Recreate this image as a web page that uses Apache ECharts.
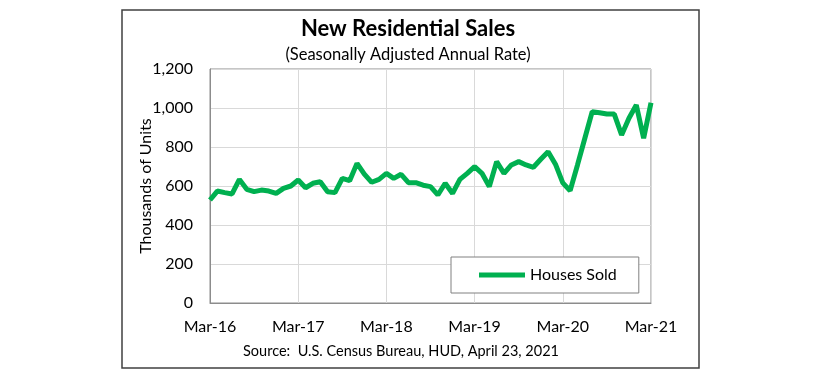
<!DOCTYPE html>
<html>
<head>
<meta charset="utf-8">
<script src="https://cdn.jsdelivr.net/npm/echarts@6/dist/echarts.min.js"></script>
<style>
html,body{margin:0;padding:0;background:#fff;}
#chart{width:830px;height:374px;}
</style>
</head>
<body>
<div id="chart"></div>
<script>
// ---- data ----
var titleText = 'New Residential Sales';
var subtitleText = '(Seasonally Adjusted Annual Rate)';
var sourceText = 'Source:  U.S. Census Bureau, HUD, April 23, 2021';
var yAxisTitle = 'Thousands of Units';
var seriesName = 'Houses Sold';
var monthNames = ['Jan','Feb','Mar','Apr','May','Jun','Jul','Aug','Sep','Oct','Nov','Dec'];
var startYear = 2016, startMonth = 2; // Mar-16
var housesSold = [
  528, 574, 566, 559, 634, 583, 571, 579, 574, 562,            // Mar-Dec 2016
  588, 600, 631, 591, 614, 622, 571, 566, 639, 627, 716, 661,  // 2017
  619, 634, 665, 639, 660, 617, 617, 604, 597, 554, 614, 562,  // 2018
  634, 665, 699, 665, 597, 725, 665, 708, 725, 708, 696, 737,  // 2019
  776, 712, 616, 576, 708, 845, 981, 976, 969, 969, 862, 947,  // 2020
  1015, 845, 1027                                              // Jan-Mar 2021
];
var yTicks = [0, 200, 400, 600, 800, 1000, 1200];
var xTickLabels = ['Mar-16','Mar-17','Mar-18','Mar-19','Mar-20','Mar-21'];

var categories = [];
for (var i = 0; i < housesSold.length; i++) {
  var m = (startMonth + i) % 12;
  var y = startYear + Math.floor((startMonth + i) / 12);
  categories.push(monthNames[m] + '-' + String(y).slice(2));
}

var FONT = 'Lato';
var chart = echarts.init(document.getElementById('chart'));
chart.setOption({
  animation: false,
  backgroundColor: '#fff',
  textStyle: { fontFamily: FONT },
  grid: {
    left: 210, right: 179, top: 69, bottom: 71,
    show: true, borderColor: '#8c8c8c', borderWidth: 1
  },
  xAxis: {
    type: 'category',
    data: categories,
    boundaryGap: false,
    axisLine: { lineStyle: { color: '#8c8c8c', width: 1 } },
    axisTick: { show: false },
    axisLabel: {
      interval: 11, margin: 16,
      color: '#000', fontSize: 16, fontFamily: FONT,
      formatter: function (v) { return xTickLabels.indexOf(v) >= 0 ? v : ''; }
    },
    splitLine: { show: true, interval: 11, lineStyle: { color: '#d9d9d9', width: 1 } }
  },
  yAxis: {
    type: 'value',
    min: yTicks[0], max: yTicks[yTicks.length - 1], interval: 200,
    name: yAxisTitle, nameLocation: 'middle', nameRotate: 90, nameGap: 56,
    nameMoveOverlap: false,
    nameTextStyle: { color: '#000', fontSize: 16, fontFamily: FONT },
    axisLine: { show: true, lineStyle: { color: '#8c8c8c', width: 1 } },
    axisTick: { show: false },
    axisLabel: {
      margin: 17, color: '#000', fontSize: 16, fontFamily: FONT,
      formatter: function (v) { return v.toLocaleString('en-US'); }
    },
    splitLine: { show: true, lineStyle: { color: '#d9d9d9', width: 1 } }
  },
  legend: {
    left: 451, top: 257,
    padding: [9, 22, 9, 28],
    borderColor: '#808080', borderWidth: 1, backgroundColor: '#fff',
    itemWidth: 46, itemHeight: 5, icon: 'rect',
    textStyle: { color: '#000', fontSize: 16, fontFamily: FONT, lineHeight: 18 },
    data: [seriesName]
  },
  series: [{
    name: seriesName,
    type: 'line',
    data: housesSold,
    symbol: 'none',
    lineStyle: { color: '#00b050', width: 5 },
    itemStyle: { color: '#00b050' }
  }],
  graphic: [
    { type: 'rect', shape: { x: 122, y: 10, width: 577, height: 358 },
      style: { fill: 'none', stroke: '#404040', lineWidth: 1.5 }, z: -1 },
    { type: 'text', x: 408, y: 29,
      style: { text: titleText, fontFamily: FONT, fontSize: 22, fontWeight: 'bold', fill: '#000', align: 'center', verticalAlign: 'middle' } },
    { type: 'text', x: 408, y: 55,
      style: { text: subtitleText, fontFamily: FONT, fontSize: 16.5, fill: '#000', align: 'center', verticalAlign: 'middle' } },
    { type: 'text', x: 401, y: 351,
      style: { text: sourceText, fontFamily: FONT, fontSize: 14.5, fill: '#000', align: 'center', verticalAlign: 'middle' } }
  ]
});
</script>
</body>
</html>
